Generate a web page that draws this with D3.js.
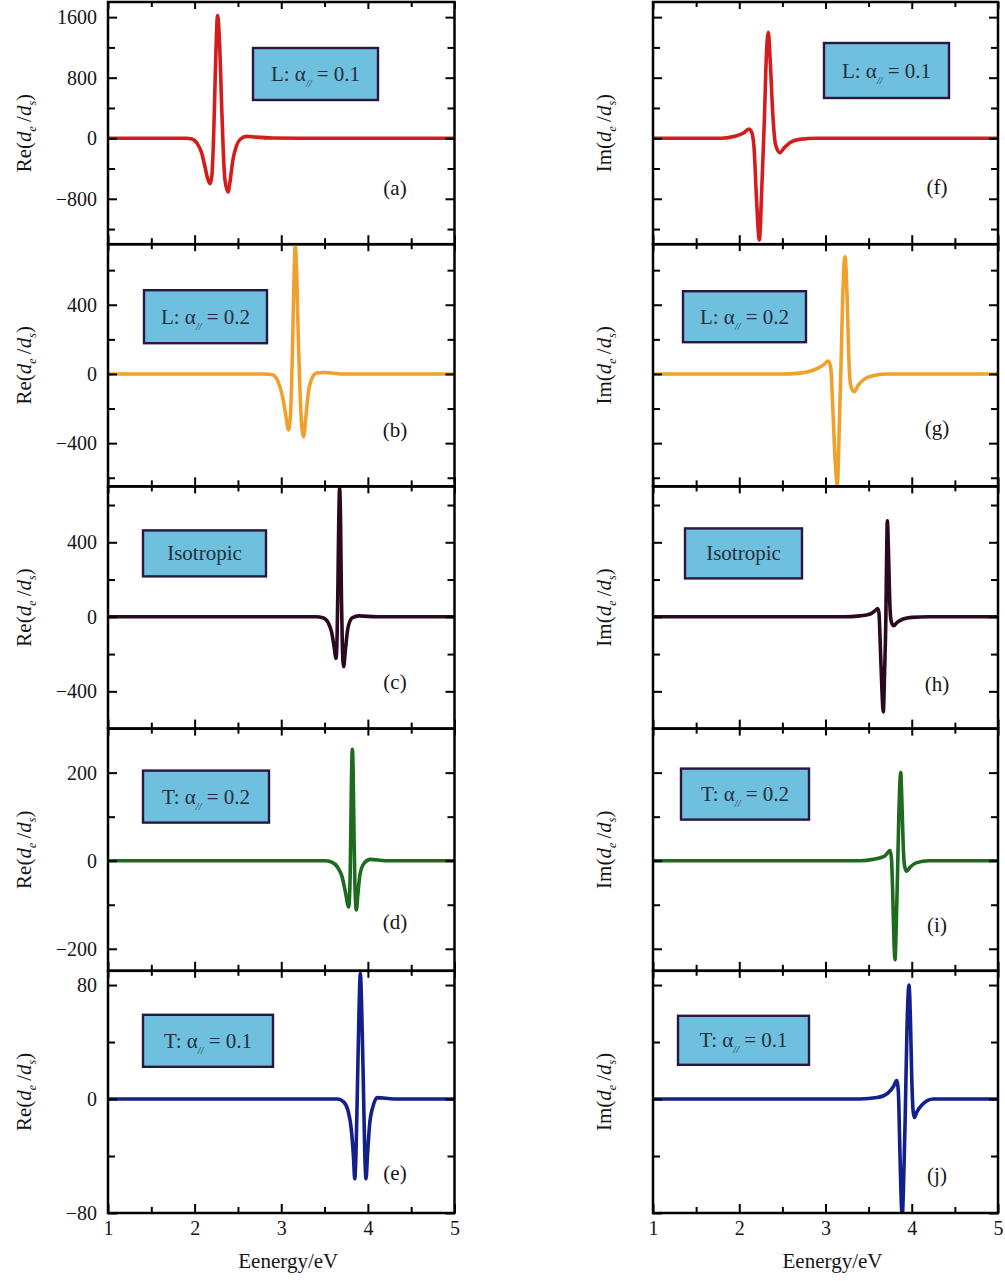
<!DOCTYPE html>
<html><head><meta charset="utf-8">
<script src="https://cdn.jsdelivr.net/npm/d3@7"></script>
<style>body{margin:0;background:#fff;} svg{display:block;}</style>
</head><body><svg id="c" width="1005" height="1281"></svg>
<script>
// ---------------- data ----------------
const energyMajor = [1, 2, 3, 4, 5];
const energyMinor = [1.5, 2.5, 3.5, 4.5];
const panelLetters = ["a", "b", "c", "d", "e", "f", "g", "h", "i", "j"];
const boxPrefix = ["L", "L", null, "T", "T"];
const boxValue = ["0.1", "0.2", null, "0.2", "0.1"];
const seriesColors = ["#d41c1c", "#f0a02c", "#2b0a20", "#1e6b1e", "#13208c"];

const yDomains = [[-1400, 1800], [-650, 750], [-600, 700], [-250, 300], [-80, 90]];
const yMajorTicks = [[-800, 0, 800, 1600], [-400, 0, 400], [-400, 0, 400], [-200, 0, 200], [-80, 0, 80]];
const yMinorTicks = [[-1200, -400, 400, 1200], [-600, -200, 200, 600], [-200, 200, 600], [-100, 100], [-40, 40]];

// Re(de/ds) — left column
const reA = [[1,0],[1.9,0],[1.97,-10],[2.03,-70],[2.08,-190],[2.12,-380],[2.15,-530],[2.18,-600],[2.2,-480],[2.22,50],[2.24,900],[2.265,1620],[2.29,1200],[2.31,500],[2.33,-150],[2.35,-550],[2.385,-710],[2.41,-560],[2.44,-300],[2.48,-110],[2.53,-10],[2.6,25],[2.7,15],[2.9,3],[3.2,0],[5,0]];
const reB = [[1,0],[2.8,0],[2.9,-5],[2.96,-40],[3.01,-120],[3.05,-230],[3.085,-324],[3.11,-200],[3.13,150],[3.145,500],[3.162,740],[3.18,550],[3.2,150],[3.22,-150],[3.24,-320],[3.258,-363],[3.28,-270],[3.31,-120],[3.35,-30],[3.41,5],[3.5,8],[3.7,0],[5,0]];
const reC = [[1,0],[3.4,0],[3.48,-5],[3.54,-30],[3.58,-80],[3.61,-160],[3.632,-223],[3.645,-100],[3.655,200],[3.665,550],[3.674,690],[3.685,500],[3.695,100],[3.705,-150],[3.72,-268],[3.74,-180],[3.77,-60],[3.82,-5],[3.9,5],[4.1,0],[5,0]];
const reD = [[1,0],[3.5,0],[3.58,-3],[3.65,-15],[3.7,-35],[3.74,-70],[3.778,-105],[3.795,-40],[3.805,100],[3.812,200],[3.821,253],[3.83,200],[3.84,60],[3.85,-50],[3.867,-112],[3.885,-75],[3.91,-30],[3.96,-5],[4.03,3],[4.2,0],[5,0]];
const reE = [[1,0],[3.65,0],[3.72,-2],[3.77,-8],[3.81,-22],[3.835,-42],[3.848,-56],[3.862,-40],[3.88,10],[3.897,60],[3.913,88],[3.93,60],[3.948,10],[3.965,-40],[3.979,-56],[3.995,-40],[4.02,-18],[4.06,-5],[4.11,1],[4.3,0],[5,0]];

// Im(de/ds) — right column
const imF = [[1,0],[1.8,0],[1.95,25],[2.05,70],[2.11,120],[2.14,90],[2.17,-100],[2.2,-800],[2.233,-1345],[2.26,-700],[2.29,200],[2.315,1100],[2.337,1400],[2.36,1000],[2.39,300],[2.42,-80],[2.47,-190],[2.52,-130],[2.59,-55],[2.7,-15],[2.9,0],[5,0]];
const imG = [[1,0],[2.5,0],[2.7,5],[2.85,20],[2.97,50],[3.033,75],[3.06,40],[3.085,-200],[3.11,-480],[3.137,-640],[3.16,-300],[3.18,50],[3.2,450],[3.226,677],[3.25,450],[3.27,100],[3.29,-60],[3.33,-103],[3.38,-65],[3.45,-30],[3.55,-10],[3.7,0],[5,0]];
const imH = [[1,0],[3.2,0],[3.4,5],[3.52,15],[3.58,35],[3.605,45],[3.62,20],[3.635,-150],[3.655,-400],[3.67,-510],[3.685,-300],[3.7,0],[3.708,300],[3.717,516],[3.73,350],[3.745,80],[3.76,-20],[3.79,-48],[3.83,-30],[3.9,-12],[4.0,-3],[4.2,0],[5,0]];
const imI = [[1,0],[3.4,0],[3.55,3],[3.68,10],[3.73,20],[3.748,23],[3.765,5],[3.78,-80],[3.795,-190],[3.806,-225],[3.82,-150],[3.835,-30],[3.85,100],[3.872,200],[3.885,140],[3.9,40],[3.915,-10],[3.94,-24],[3.98,-15],[4.05,-5],[4.2,0],[5,0]];
const imJ = [[1,0],[3.4,0],[3.6,1],[3.72,4],[3.79,9],[3.825,13],[3.845,5],[3.86,-30],[3.877,-70],[3.89,-82],[3.905,-60],[3.925,-10],[3.945,50],[3.968,80],[3.985,55],[4.0,15],[4.015,-8],[4.03,-13],[4.06,-9],[4.12,-4],[4.25,0],[5,0]];

const reSeries = [reA, reB, reC, reD, reE];
const imSeries = [imF, imG, imH, imI, imJ];

// ---------------- layout ----------------
const cols = [{l: 108, r: 454.5, title: "Re"}, {l: 653, r: 998, title: "Im"}];
const top0 = 2, panelH = 242.2;
const boxLayout = [
  [[145, 46, 125, 52], [36, 46, 123, 53], [35, 44, 123, 46], [35, 42, 126, 52], [35, 44, 130, 52]],
  [[171, 41, 125, 55], [30, 47, 123, 51], [32, 42, 117, 50], [28, 40, 128, 51], [25, 45, 131, 49]]
];
const letterY = [[186, 186, 196, 193, 202], [185, 184, 198, 196, 204]];
const letterX = [395, 937];

const svg = d3.select("#c");
const FONT = "'Liberation Serif','Times New Roman',serif";
const textCol = "#151515";

for (let c = 0; c < 2; c++) {
  for (let r = 0; r < 5; r++) {
    const top = top0 + r * panelH;
    const x = d3.scaleLinear().domain([1, 5]).range([cols[c].l, cols[c].r]);
    const y = d3.scaleLinear().domain(yDomains[r]).range([top + panelH, top]);
    const data = c === 0 ? reSeries[r] : imSeries[r];
    const id = "clip" + c + r;
    svg.append("clipPath").attr("id", id).append("rect")
      .attr("x", x(1)).attr("y", top).attr("width", x(5) - x(1)).attr("height", panelH);

    // curve
    const line = d3.line().x(d => x(d[0])).y(d => y(d[1])).curve(d3.curveMonotoneX);
    svg.append("path").datum(data).attr("clip-path", `url(#${id})`)
      .attr("d", line).attr("fill", "none").attr("stroke", seriesColors[r])
      .attr("stroke-width", 3.6).attr("stroke-linejoin", "round");

    // axes (inward ticks)
    const styleAxis = g => {
      g.select(".domain").remove();
      g.selectAll("line").attr("stroke", "#000").attr("stroke-width", 2);
      g.attr("font-family", FONT).attr("font-size", 20);
      g.selectAll("text").attr("fill", textCol);
    };
    const bottomMajor = d3.axisBottom(x).tickValues(energyMajor).tickSizeInner(-9).tickSizeOuter(0).tickPadding(8);
    if (r < 4) bottomMajor.tickFormat("");
    else bottomMajor.tickFormat(d3.format("d"));
    svg.append("g").attr("transform", `translate(0,${top + panelH})`).call(bottomMajor).call(styleAxis);
    svg.append("g").attr("transform", `translate(0,${top + panelH})`)
      .call(d3.axisBottom(x).tickValues(energyMinor).tickSizeInner(-6).tickSizeOuter(0).tickFormat("")).call(styleAxis);
    svg.append("g").attr("transform", `translate(0,${top})`)
      .call(d3.axisTop(x).tickValues(energyMajor).tickSizeInner(-7).tickSizeOuter(0).tickFormat("")).call(styleAxis);
    svg.append("g").attr("transform", `translate(0,${top})`)
      .call(d3.axisTop(x).tickValues(energyMinor).tickSizeInner(-5).tickSizeOuter(0).tickFormat("")).call(styleAxis);

    const leftMajor = d3.axisLeft(y).tickValues(yMajorTicks[r]).tickSizeInner(-9).tickSizeOuter(0).tickPadding(11);
    leftMajor.tickFormat(c === 0 ? d3.format("d") : "");
    svg.append("g").attr("transform", `translate(${x(1)},0)`).call(leftMajor).call(styleAxis);
    svg.append("g").attr("transform", `translate(${x(1)},0)`)
      .call(d3.axisLeft(y).tickValues(yMinorTicks[r]).tickSizeInner(-7).tickSizeOuter(0).tickFormat("")).call(styleAxis);
    svg.append("g").attr("transform", `translate(${x(5)},0)`)
      .call(d3.axisRight(y).tickValues(yMajorTicks[r]).tickSizeInner(-9).tickSizeOuter(0).tickFormat("")).call(styleAxis);
    svg.append("g").attr("transform", `translate(${x(5)},0)`)
      .call(d3.axisRight(y).tickValues(yMinorTicks[r]).tickSizeInner(-7).tickSizeOuter(0).tickFormat("")).call(styleAxis);

    // frame
    svg.append("rect").attr("x", x(1)).attr("y", top).attr("width", x(5) - x(1)).attr("height", panelH)
      .attr("fill", "none").attr("stroke", "#000").attr("stroke-width", 2.5);

    // y title
    const ty = top + panelH / 2 + (r === 0 ? 10 : 0);
    const tx = c === 0 ? 31 : 611;
    const t = svg.append("text").attr("transform", `translate(${tx},${ty}) rotate(-90)`)
      .attr("text-anchor", "middle").attr("font-family", FONT).attr("font-size", 21).attr("fill", textCol);
    t.append("tspan").text(cols[c].title + "(");
    t.append("tspan").attr("font-style", "italic").text("d");
    t.append("tspan").attr("font-style", "italic").attr("font-size", 12).attr("dy", 5).text("e");
    t.append("tspan").attr("dy", -5).text("\u2009/");
    t.append("tspan").attr("font-style", "italic").text("d");
    t.append("tspan").attr("font-style", "italic").attr("font-size", 12).attr("dy", 5).text("s");
    t.append("tspan").attr("dy", -5).text(")");

    // box
    const b = boxLayout[c][r];
    const bx = x(1) + b[0], by = top + b[1];
    svg.append("rect").attr("x", bx).attr("y", by).attr("width", b[2]).attr("height", b[3])
      .attr("fill", "#6fc0df").attr("stroke", "#2a1640").attr("stroke-width", 2.4);
    const bt = svg.append("text").attr("x", bx + b[2] / 2).attr("y", by + b[3] / 2 + 7)
      .attr("text-anchor", "middle").attr("font-family", FONT).attr("font-size", 21).attr("fill", "#22303c");
    if (boxPrefix[r] === null) {
      bt.text("Isotropic");
    } else {
      bt.append("tspan").text(boxPrefix[r] + ": \u03B1");
      bt.append("tspan").attr("font-style", "italic").attr("font-size", 10).attr("dy", 6).text("//");
      bt.append("tspan").attr("dy", -6).text(" = " + boxValue[r]);
    }

    // panel letter
    svg.append("text").attr("x", letterX[c]).attr("y", top + letterY[c][r] + 7)
      .attr("text-anchor", "middle").attr("font-family", FONT).attr("font-size", 21).attr("fill", textCol)
      .text("(" + panelLetters[c * 5 + r] + ")");
  }
  // x title
  svg.append("text").attr("x", (cols[c].l + cols[c].r) / 2 + 7).attr("y", 1268)
    .attr("text-anchor", "middle").attr("font-family", FONT).attr("font-size", 21).attr("fill", textCol)
    .text("Eenergy/eV");
}
</script></body></html>
